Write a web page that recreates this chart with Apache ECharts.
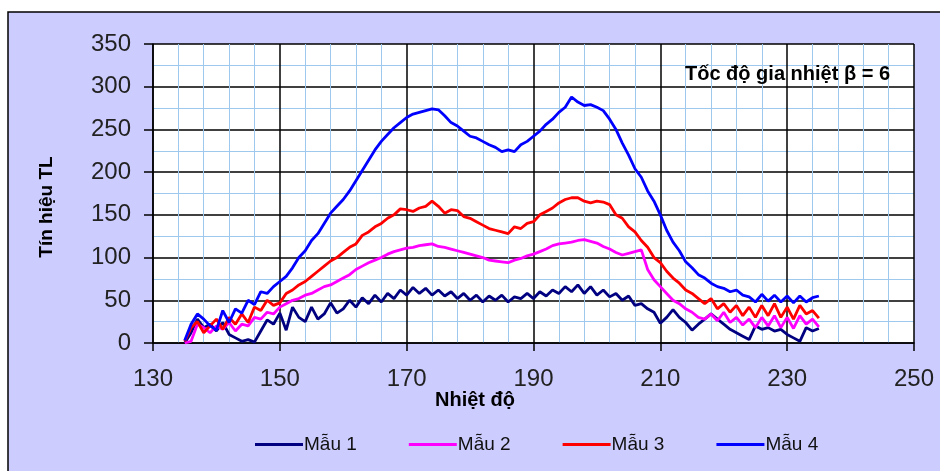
<!DOCTYPE html>
<html><head><meta charset="utf-8">
<script src="https://cdn.jsdelivr.net/npm/echarts@6/dist/echarts.min.js"></script>
<style>html,body{margin:0;padding:0;background:#fff}#c{width:940px;height:471px}</style>
</head><body><div id="c"></div>
<script>
const temps = [135,136,137,138,139,140,141,142,143,144,145,146,147,148,149,150,151,152,153,154,155,156,157,158,159,160,161,162,163,164,165,166,167,168,169,170,171,172,173,174,175,176,177,178,179,180,181,182,183,184,185,186,187,188,189,190,191,192,193,194,195,196,197,198,199,200,201,202,203,204,205,206,207,208,209,210,211,212,213,214,215,216,217,218,219,220,221,222,223,224,225,226,227,228,229,230,231,232,233,234,235];
const mau1 = [0,12,28,18,22,14,24,10,6,2,4,1,14,27,22,35,15,42,30,25,42,28,34,47,35,40,50,42,53,46,56,48,58,52,62,56,65,58,64,56,62,55,60,52,58,50,56,48,55,50,56,48,54,52,58,52,60,55,62,58,66,60,68,58,66,56,62,54,58,50,55,44,46,40,36,23,30,39,30,24,15,22,28,34,28,22,16,12,8,4,20,16,18,14,16,10,6,2,18,14,17];
const mau2 = [0,2,22,18,12,20,16,24,14,22,20,30,28,36,34,42,46,50,52,56,58,62,66,68,72,76,80,86,90,94,97,100,104,107,109,111,112,114,115,116,113,112,110,108,106,104,102,100,97,96,95,94,97,99,102,104,107,110,114,116,117,118,120,121,119,117,113,110,106,103,105,107,109,86,74,66,58,50,46,40,36,30,28,34,26,36,24,30,21,28,18,30,20,32,18,30,17,32,22,28,19];
const mau3 = [2,18,25,12,20,28,16,30,22,34,24,42,38,50,44,47,58,62,68,72,78,84,90,96,100,106,112,116,126,130,136,140,146,150,157,156,154,158,160,166,160,152,156,155,148,146,142,138,134,132,130,128,136,134,140,142,150,154,158,164,168,170,170,166,164,166,165,162,150,146,136,130,120,112,100,94,84,76,70,62,58,52,46,52,40,46,36,44,32,42,30,44,32,46,30,42,28,44,34,38,29];
const mau4 = [3,22,34,28,20,15,38,24,40,35,50,45,60,58,66,72,78,88,100,108,120,128,140,152,160,168,178,190,202,214,226,236,244,252,258,264,268,270,272,274,273,266,258,254,248,242,240,236,232,229,224,226,224,232,236,242,248,256,262,270,276,288,282,278,279,276,272,262,250,234,220,204,194,178,166,150,132,118,108,95,88,80,76,70,66,64,60,62,56,54,48,57,49,56,48,55,47,55,48,53,55];
const seriesNames = ['Mẫu 1','Mẫu 2','Mẫu 3','Mẫu 4'];
const seriesColors = ['#000080','#FF00FF','#FF0000','#0000FF'];
const xTicks = [130,150,170,190,210,230,250];
const yTicks = [0,50,100,150,200,250,300,350];

const all = [mau1, mau2, mau3, mau4];
const chart = echarts.init(document.getElementById('c'), null, {renderer:'canvas'});
const font = 'Liberation Sans, Arial, sans-serif';
chart.setOption({
  animation:false,
  backgroundColor:'#fff',
  graphic:[
    {type:'rect', z:-10, shape:{x:8,y:12,width:1000,height:1000}, style:{fill:'#CCCCFF', stroke:'#000', lineWidth:1.5}},
    {type:'text', z:10, left:685, top:64, style:{text:'Tốc độ gia nhiệt β = 6', font:'bold 20px '+font, fill:'#000'}},
    {type:'text', z:10, x:47, y:207, rotation:Math.PI/2, style:{text:'Tín hiệu TL', font:'bold 19px '+font, fill:'#000', align:'center', verticalAlign:'middle'}},
    {type:'text', z:10, x:475, y:400, style:{text:'Nhiệt độ', font:'bold 20px '+font, fill:'#000', align:'center', verticalAlign:'middle'}}
  ],
  legend:{
    data:seriesNames, left:250, top:430, icon:'rect', itemWidth:48, itemHeight:3, itemGap:52,
    textStyle:{fontFamily:font, fontSize:19, color:'#111', padding:[0,0,0,-4]}
  },
  grid:{left:153, top:44, right:26, bottom:128, show:true, backgroundColor:'#fff', borderWidth:0},
  xAxis:{
    type:'value', min:xTicks[0], max:xTicks[xTicks.length-1], interval:20,
    axisLine:{show:true, onZero:false, lineStyle:{color:'#000', width:1.5}},
    axisTick:{show:true, length:8, lineStyle:{color:'#000', width:1.5}},
    axisLabel:{fontFamily:font, fontSize:24, color:'#222', margin:24},
    splitLine:{show:true, lineStyle:{color:'#000', width:1.5}},
    minorTick:{show:false, splitNumber:5},
    minorSplitLine:{show:true, lineStyle:{color:'#9FC8EE', width:1}}
  },
  yAxis:{
    type:'value', min:yTicks[0], max:yTicks[yTicks.length-1], interval:50,
    axisLine:{show:true, lineStyle:{color:'#000', width:1.5}},
    axisTick:{show:true, length:9, lineStyle:{color:'#000', width:1.5}},
    axisLabel:{fontFamily:font, fontSize:24, color:'#222', margin:22},
    splitLine:{show:true, lineStyle:{color:'#000', width:1.5}},
    minorTick:{show:false, splitNumber:2},
    minorSplitLine:{show:true, lineStyle:{color:'#9FC8EE', width:1}}
  },
  series: all.map((vals,i)=>({
    name:seriesNames[i], type:'line', showSymbol:false, symbol:'none',
    color:seriesColors[i], lineStyle:{width:2.8, color:seriesColors[i]},
    data: temps.map((t,j)=>[t, vals[j]])
  }))
});
</script></body></html>
